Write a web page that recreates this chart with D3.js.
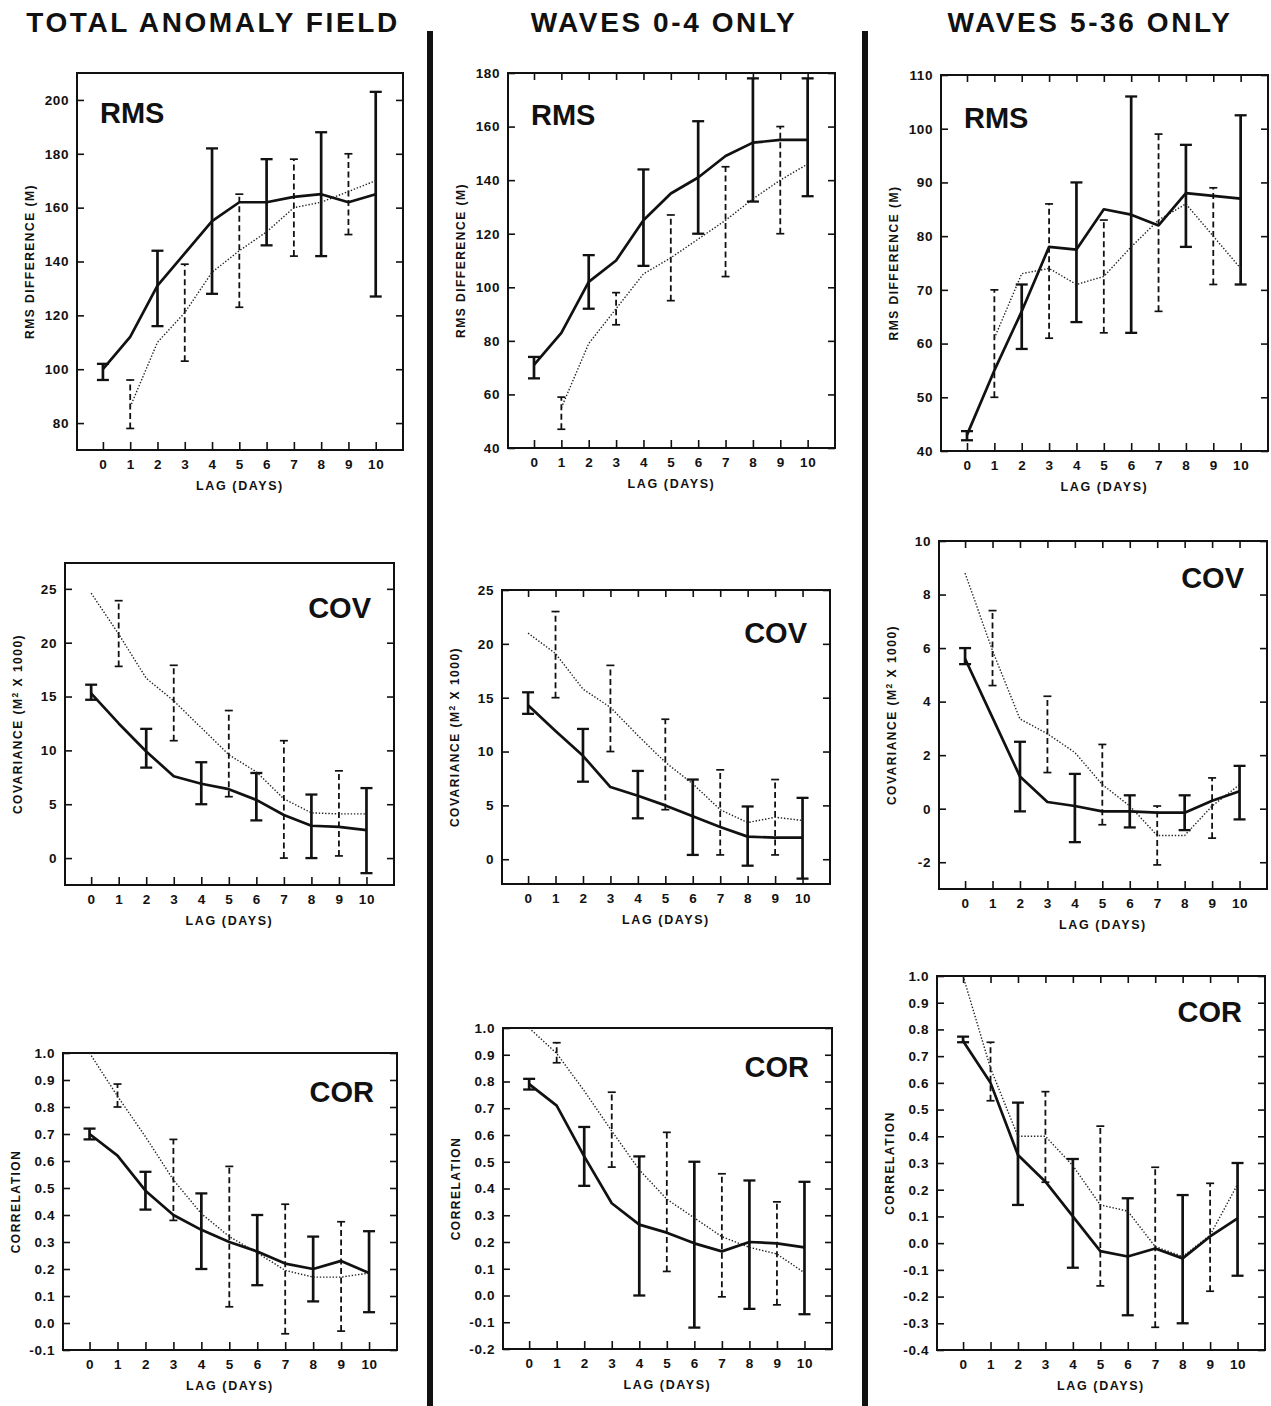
<!DOCTYPE html>
<html>
<head>
<meta charset="utf-8">
<script src="https://cdnjs.cloudflare.com/ajax/libs/d3/7.8.5/d3.min.js"></script>
<style>
  body { margin: 0; background: #fff; }
  text { font-family: "Liberation Sans", Arial, sans-serif; font-weight: bold; fill: #111; }
</style>
</head>
<body>
<div id="chart"></div>
<script>
var lags = [0, 1, 2, 3, 4, 5, 6, 7, 8, 9, 10];
var columnTitles = ["TOTAL ANOMALY FIELD", "WAVES 0-4 ONLY", "WAVES 5-36 ONLY"];

// RMS difference (m)
var rmsTotalSolid  = [100, 112, 131, 143, 155, 162, 162, 164, 165, 162, 165];
var rmsTotalDotted = [null, 86, 110, 121, 136, 144, 151, 160, 162, 166, 170];
var rmsTotalLo     = [96, 78, 116, 103, 128, 123, 146, 142, 142, 150, 127];
var rmsTotalHi     = [102, 96, 144, 139, 182, 165, 178, 178, 188, 180, 203];
var rmsTotalTicks  = [80, 100, 120, 140, 160, 180, 200];

var rmsLowSolid  = [71, 83, 102, 110, 125, 135, 141, 149, 154, 155, 155];
var rmsLowDotted = [null, 55, 79, 92, 105, 111, 118, 125, 133, 140, 146];
var rmsLowLo     = [66, 47, 92, 86, 108, 95, 120, 104, 132, 120, 134];
var rmsLowHi     = [74, 59, 112, 98, 144, 127, 162, 145, 178, 160, 178];
var rmsLowTicks  = [40, 60, 80, 100, 120, 140, 160, 180];

var rmsHighSolid  = [43, 55, 66, 78, 77.5, 85, 84, 82, 88, 87.5, 87];
var rmsHighDotted = [null, 61, 73, 74, 71, 72.5, 78, 83, 86, 80, 74];
var rmsHighLo     = [42, 50, 59, 61, 64, 62, 62, 66, 78, 71, 71];
var rmsHighHi     = [43.7, 70, 71, 86, 90, 83, 106, 99, 97, 89, 102.5];
var rmsHighTicks  = [40, 50, 60, 70, 80, 90, 100, 110];

// covariance (m2 x 1000)
var covTotalSolid  = [15.3, 12.5, 9.9, 7.6, 6.9, 6.4, 5.4, 4.0, 3.0, 2.9, 2.6];
var covTotalDotted = [24.6, 20.8, 16.7, 14.6, 12.1, 9.6, 8.0, 5.5, 4.2, 4.1, 4.1];
var covTotalLo     = [14.7, 17.8, 8.4, 10.9, 5.0, 5.7, 3.5, 0, 0, 0.2, -1.4];
var covTotalHi     = [16.1, 23.9, 12, 17.9, 8.9, 13.7, 7.9, 10.9, 5.9, 8.1, 6.5];
var covTotalTicks  = [0, 5, 10, 15, 20, 25];

var covLowSolid  = [14.3, 11.9, 9.6, 6.7, 5.9, 5.0, 4.0, 3.0, 2.1, 2.0, 2.0];
var covLowDotted = [21.0, 19.1, 15.8, 14.1, 11.5, 9.0, 7.0, 4.6, 3.4, 3.9, 3.6];
var covLowLo     = [13.5, 15, 7.2, 10, 3.8, 4.6, 0.4, 0.4, -0.6, 0.4, -1.8];
var covLowHi     = [15.5, 23, 12.1, 18, 8.2, 13, 7.4, 8.3, 4.9, 7.4, 5.7];
var covLowTicks  = [0, 5, 10, 15, 20, 25];

var covHighSolid  = [5.6, 3.4, 1.2, 0.25, 0.1, -0.1, -0.1, -0.15, -0.15, 0.3, 0.65];
var covHighDotted = [8.8, 5.9, 3.35, 2.8, 2.1, 0.9, 0.1, -1.0, -1.0, 0.1, 0.9];
var covHighLo     = [5.4, 4.6, -0.1, 1.35, -1.25, -0.6, -0.7, -2.1, -0.8, -1.1, -0.4];
var covHighHi     = [6.0, 7.4, 2.5, 4.2, 1.3, 2.4, 0.5, 0.1, 0.5, 1.15, 1.6];
var covHighTicks  = [-2, 0, 2, 4, 6, 8, 10];

// correlation
var corTotalSolid  = [0.70, 0.62, 0.49, 0.40, 0.345, 0.30, 0.265, 0.22, 0.20, 0.23, 0.185];
var corTotalDotted = [1.0, 0.84, 0.69, 0.53, 0.405, 0.32, 0.26, 0.195, 0.17, 0.17, 0.185];
var corTotalLo     = [0.68, 0.80, 0.42, 0.38, 0.20, 0.06, 0.14, -0.04, 0.08, -0.03, 0.04];
var corTotalHi     = [0.72, 0.885, 0.56, 0.68, 0.48, 0.58, 0.40, 0.44, 0.32, 0.375, 0.34];
var corTotalTicks  = [-0.1, 0, 0.1, 0.2, 0.3, 0.4, 0.5, 0.6, 0.7, 0.8, 0.9, 1.0];

var corLowSolid  = [0.79, 0.71, 0.52, 0.345, 0.265, 0.235, 0.195, 0.165, 0.20, 0.195, 0.18];
var corLowDotted = [1.0, 0.905, 0.765, 0.615, 0.47, 0.36, 0.29, 0.22, 0.18, 0.155, 0.085];
var corLowLo     = [0.77, 0.87, 0.41, 0.48, 0.0, 0.09, -0.12, -0.005, -0.05, -0.035, -0.07];
var corLowHi     = [0.81, 0.945, 0.63, 0.76, 0.52, 0.61, 0.50, 0.455, 0.43, 0.35, 0.425];
var corLowTicks  = [-0.2, -0.1, 0, 0.1, 0.2, 0.3, 0.4, 0.5, 0.6, 0.7, 0.8, 0.9, 1.0];

var corHighSolid  = [0.757, 0.60, 0.33, 0.23, 0.10, -0.03, -0.05, -0.02, -0.057, 0.025, 0.093];
var corHighDotted = [1.0, 0.655, 0.40, 0.40, 0.29, 0.143, 0.12, -0.013, -0.05, 0.03, 0.22];
var corHighLo     = [0.752, 0.533, 0.143, 0.228, -0.092, -0.16, -0.27, -0.315, -0.30, -0.18, -0.122];
var corHighHi     = [0.773, 0.752, 0.526, 0.567, 0.315, 0.438, 0.168, 0.284, 0.18, 0.224, 0.30];
var corHighTicks  = [-0.4, -0.3, -0.2, -0.1, 0, 0.1, 0.2, 0.3, 0.4, 0.5, 0.6, 0.7, 0.8, 0.9, 1.0];

var panels = [
  {label: "RMS", title: "RMS DIFFERENCE (M)", solid: rmsTotalSolid, dotted: rmsTotalDotted, lo: rmsTotalLo, hi: rmsTotalHi, ticks: rmsTotalTicks, fmt: "d"},
  {label: "RMS", title: "RMS DIFFERENCE (M)", solid: rmsLowSolid, dotted: rmsLowDotted, lo: rmsLowLo, hi: rmsLowHi, ticks: rmsLowTicks, fmt: "d"},
  {label: "RMS", title: "RMS DIFFERENCE (M)", solid: rmsHighSolid, dotted: rmsHighDotted, lo: rmsHighLo, hi: rmsHighHi, ticks: rmsHighTicks, fmt: "d"},
  {label: "COV", title: "COV", solid: covTotalSolid, dotted: covTotalDotted, lo: covTotalLo, hi: covTotalHi, ticks: covTotalTicks, fmt: "d"},
  {label: "COV", title: "COV", solid: covLowSolid, dotted: covLowDotted, lo: covLowLo, hi: covLowHi, ticks: covLowTicks, fmt: "d"},
  {label: "COV", title: "COV", solid: covHighSolid, dotted: covHighDotted, lo: covHighLo, hi: covHighHi, ticks: covHighTicks, fmt: "d"},
  {label: "COR", title: "CORRELATION", solid: corTotalSolid, dotted: corTotalDotted, lo: corTotalLo, hi: corTotalHi, ticks: corTotalTicks, fmt: ".1f"},
  {label: "COR", title: "CORRELATION", solid: corLowSolid, dotted: corLowDotted, lo: corLowLo, hi: corLowHi, ticks: corLowTicks, fmt: ".1f"},
  {label: "COR", title: "CORRELATION", solid: corHighSolid, dotted: corHighDotted, lo: corHighLo, hi: corHighHi, ticks: corHighTicks, fmt: ".1f"}
];

// frame boxes and y domains
var frames = [
  {x0: 77,  x1: 403,  y0: 73,   y1: 450,  ymin: 70,   ymax: 210,  labelDy: 50, right: false, topTicks: false},
  {x0: 508, x1: 835,  y0: 73,   y1: 448,  ymin: 40,   ymax: 180,  labelDy: 52, right: false, topTicks: true},
  {x0: 941, x1: 1268, y0: 75,   y1: 451,  ymin: 40,   ymax: 110,  labelDy: 53, right: false, topTicks: true},
  {x0: 65,  x1: 394,  y0: 563,  y1: 885,  ymin: -2.5, ymax: 27.4, labelDy: 55, right: true,  topTicks: false},
  {x0: 502, x1: 830,  y0: 590,  y1: 884,  ymin: -2.3, ymax: 25,   labelDy: 53, right: true,  topTicks: true},
  {x0: 939, x1: 1267, y0: 541,  y1: 889,  ymin: -3,   ymax: 10,   labelDy: 47, right: true,  topTicks: true},
  {x0: 63,  x1: 397,  y0: 1053, y1: 1350, ymin: -0.1, ymax: 1.0,  labelDy: 49, right: true,  topTicks: false},
  {x0: 503, x1: 832,  y0: 1028, y1: 1349, ymin: -0.2, ymax: 1.0,  labelDy: 49, right: true,  topTicks: false},
  {x0: 937, x1: 1265, y0: 976,  y1: 1350, ymin: -0.4, ymax: 1.0,  labelDy: 46, right: true,  topTicks: true}
];
var titleX = [213, 664, 1090];
var dividers = [430, 865];

var width = 1271, height = 1406;

var svg = d3.select("#chart").append("svg")
    .attr("width", width)
    .attr("height", height);

svg.selectAll(".coltitle")
    .data(columnTitles)
    .enter().append("text")
    .attr("class", "coltitle")
    .attr("x", function(d, i) { return titleX[i]; })
    .attr("y", 32)
    .attr("text-anchor", "middle")
    .style("font-size", "28px")
    .style("letter-spacing", "2.6px")
    .text(function(d) { return d; });

svg.selectAll(".divider")
    .data(dividers)
    .enter().append("rect")
    .attr("class", "divider")
    .attr("x", function(d) { return d - 3; })
    .attr("y", 31)
    .attr("width", 6)
    .attr("height", height - 31)
    .attr("fill", "#111");

panels.forEach(function(p, i) {
  var f = frames[i];
  var x = d3.scaleLinear().domain([-0.95, 11]).range([f.x0, f.x1]);
  var y = d3.scaleLinear().domain([f.ymin, f.ymax]).range([f.y1, f.y0]);
  var fmt = d3.format(p.fmt);
  var g = svg.append("g").attr("class", "panel");

  // axes, ticks pointing inward
  var yl = g.append("g")
      .attr("transform", "translate(" + f.x0 + ",0)")
      .call(d3.axisLeft(y).tickValues(p.ticks).tickSize(-7).tickPadding(8)
        .tickFormat(function(d) { return fmt(d).replace("\u2212", "-"); }));
  var yr = g.append("g")
      .attr("transform", "translate(" + f.x1 + ",0)")
      .call(d3.axisRight(y).tickValues(p.ticks).tickSize(-7).tickFormat(""));
  var xb = g.append("g")
      .attr("transform", "translate(0," + f.y1 + ")")
      .call(d3.axisBottom(x).tickValues(lags).tickSize(-8).tickPadding(9).tickFormat(d3.format("d")));
  var axes = [yl, yr, xb];
  if (f.topTicks) {
    axes.push(g.append("g")
      .attr("transform", "translate(0," + f.y0 + ")")
      .call(d3.axisTop(x).tickValues(lags).tickSize(-7).tickFormat("")));
  }
  axes.forEach(function(a) {
    a.attr("font-size", null).attr("font-family", null);
    a.select(".domain").remove();
    a.selectAll(".tick line").attr("stroke", "#111").attr("stroke-width", 1.6);
    a.selectAll("text")
      .attr("fill", "#111")
      .style("font-size", "13.5px")
      .style("letter-spacing", "0.6px");
  });

  g.append("rect")
    .attr("x", f.x0).attr("y", f.y0)
    .attr("width", f.x1 - f.x0).attr("height", f.y1 - f.y0)
    .attr("fill", "none").attr("stroke", "#111").attr("stroke-width", 2);

  // axis titles
  g.append("text")
    .attr("x", (f.x0 + f.x1) / 2)
    .attr("y", f.y1 + 40)
    .attr("text-anchor", "middle")
    .style("font-size", "12.5px")
    .style("letter-spacing", "1.6px")
    .text("LAG (DAYS)");

  var yt = g.append("text")
    .attr("transform", "translate(" + (f.x0 - 43) + "," + ((f.y0 + f.y1) / 2) + ") rotate(-90)")
    .attr("text-anchor", "middle")
    .style("font-size", "12px")
    .style("letter-spacing", "1.5px");
  if (p.title === "COV") {
    yt.append("tspan").text("COVARIANCE (M");
    yt.append("tspan").attr("dy", -4).style("font-size", "8.5px").text("2");
    yt.append("tspan").attr("dy", 4).text(" X 1000)");
  } else {
    yt.text(p.title);
  }

  // panel label
  g.append("text")
    .attr("x", f.right ? f.x1 - 23 : f.x0 + 23)
    .attr("y", f.y0 + f.labelDy)
    .attr("text-anchor", f.right ? "end" : "start")
    .style("font-size", "29px")
    .text(p.label);

  // error bars: solid at even lags, dashed at odd lags
  var bars = lags.map(function(l, k) {
    return {lag: l, lo: p.lo[k], hi: p.hi[k], dashed: l % 2 === 1};
  });
  var bg = g.selectAll(".bar").data(bars).enter().append("g").attr("class", "bar");
  bg.append("line")
    .attr("x1", function(d) { return x(d.lag); })
    .attr("x2", function(d) { return x(d.lag); })
    .attr("y1", function(d) { return y(d.lo); })
    .attr("y2", function(d) { return y(d.hi); })
    .attr("stroke", "#111")
    .attr("stroke-width", function(d) { return d.dashed ? 1.8 : 2.7; })
    .attr("stroke-dasharray", function(d) { return d.dashed ? "6,3.5" : null; });
  ["lo", "hi"].forEach(function(key) {
    bg.append("line")
      .attr("x1", function(d) { return x(d.lag) - (d.dashed ? 4 : 6); })
      .attr("x2", function(d) { return x(d.lag) + (d.dashed ? 4 : 6); })
      .attr("y1", function(d) { return y(d[key]); })
      .attr("y2", function(d) { return y(d[key]); })
      .attr("stroke", "#111")
      .attr("stroke-width", function(d) { return d.dashed ? 1.7 : 2.3; });
  });

  var line = d3.line()
      .defined(function(d) { return d[1] != null; })
      .x(function(d) { return x(d[0]); })
      .y(function(d) { return y(d[1]); });

  g.append("path")
    .datum(lags.map(function(l, k) { return [l, p.dotted[k]]; }))
    .attr("d", line)
    .attr("fill", "none")
    .attr("stroke", "#222")
    .attr("stroke-width", 1.4)
    .attr("stroke-dasharray", "1.4,1.8");

  g.append("path")
    .datum(lags.map(function(l, k) { return [l, p.solid[k]]; }))
    .attr("d", line)
    .attr("fill", "none")
    .attr("stroke", "#111")
    .attr("stroke-width", 2.7)
    .attr("stroke-linejoin", "round");
});
</script>
</body>
</html>
